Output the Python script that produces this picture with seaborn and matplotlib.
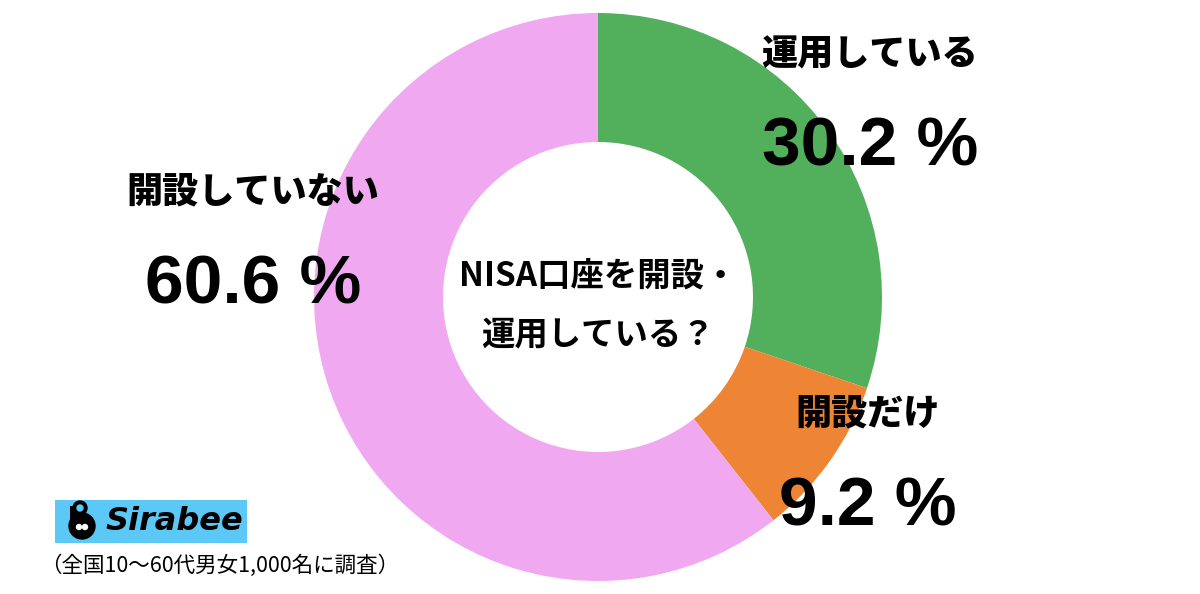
import matplotlib
matplotlib.use("Agg")
import matplotlib.pyplot as plt
import seaborn as sns
from matplotlib.patches import Rectangle

categories = ["運用している", "開設だけ", "開設していない"]
values = [30.2, 9.2, 60.6]
value_labels = ["30.2 %", "9.2 %", "60.6 %"]
colors = ["#52B05C", "#EE8535", "#F0A8F0"]
center_lines = ["NISA口座を開設・", "運用している？"]
footnote = "（全国10～60代男女1,000名に調査）"

sns.set_theme(style="white")
plt.rcParams['font.family'] = ['Noto Sans CJK JP', 'DejaVu Sans']
palette = sns.color_palette(colors)

fig = plt.figure(figsize=(12, 5.94), dpi=100)
ax = fig.add_axes([0, 0, 1, 1])

cx, cy = 598, 594 - 297
R = 284
ax.pie(values, colors=palette, startangle=90, counterclock=False,
       center=(cx, cy), radius=R, wedgeprops=dict(width=R - 155, linewidth=0),
       frame=True)
ax.set_xlim(0, 1200)
ax.set_ylim(0, 594)
ax.set_aspect('equal')
ax.axis('off')

# labels
label_pos = [(870, 55, 148), (868, 413, 508), (253, 192, 285)]
for (x, y1, y2), cat, vl in zip(label_pos, categories, value_labels):
    ax.text(x, 594 - y1, cat, ha='center', va='center', fontsize=26, fontweight='heavy', color='black')
    ax.text(x, 594 - y2, vl, ha='center', va='center', fontsize=50, fontweight='bold', color='black',
            family=['Liberation Sans', 'DejaVu Sans'])

ax.text(cx, 594 - 276, center_lines[0], ha='center', va='center', fontsize=24, fontweight='bold', color='black')
ax.text(cx, 594 - 336, center_lines[1], ha='center', va='center', fontsize=24, fontweight='bold', color='black')

# logo
ax.add_patch(Rectangle((55, 594 - 543), 192, 43, color='#5BC8F5', lw=0))
ax.text(106, 594 - 521, "Sirabee", ha='left', va='center', fontsize=23, fontweight='bold',
        fontstyle='italic', color='black', family=['DejaVu Sans'])
ax.add_patch(plt.Circle((82, 594 - 526), 13, color='black'))
ax.add_patch(Rectangle((70, 594 - 520), 6, 14, color='black', lw=0))
ax.add_patch(plt.Circle((80, 594 - 508), 7, color='black'))
ax.add_patch(plt.Circle((80, 594 - 508), 3, color='#5BC8F5'))
ax.add_patch(plt.Circle((79, 594 - 527), 2.5, color='white'))
ax.add_patch(plt.Circle((85, 594 - 527), 2.5, color='white'))

ax.text(40, 594 - 566, footnote, ha='left', va='center', fontsize=15.5, color='black')

fig.savefig("out.png", dpi=100, facecolor='white')
